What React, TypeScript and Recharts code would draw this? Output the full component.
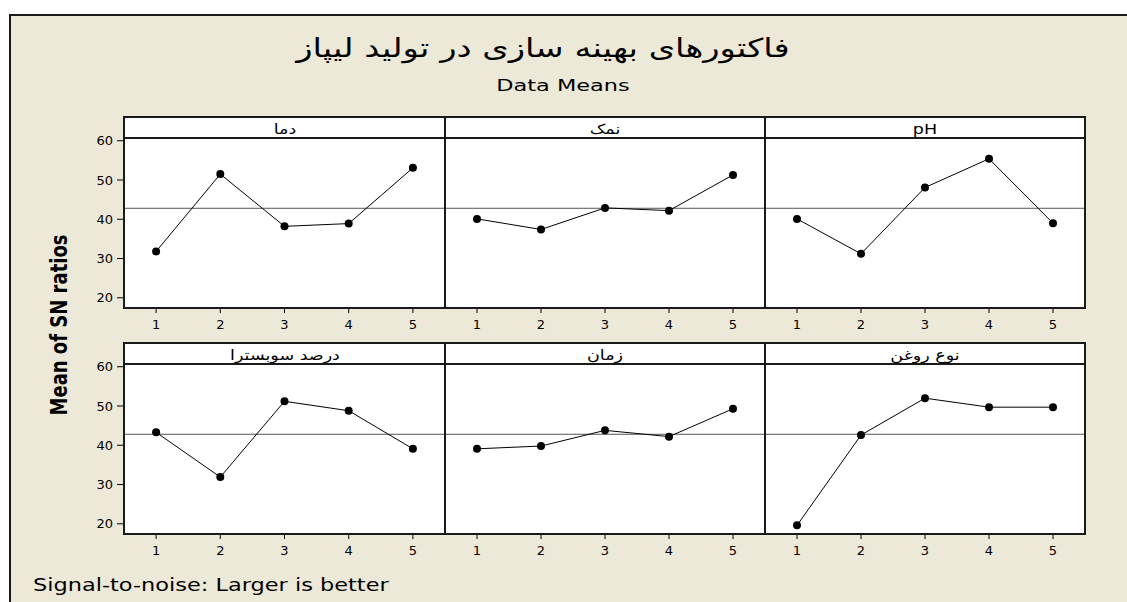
import type { CSSProperties, ReactNode } from "react";
import { Line, LineChart, ReferenceLine, XAxis, YAxis } from "recharts";

// Main effects of each factor level on the S/N ratio
const LEVELS = [1, 2, 3, 4, 5];
const FACTOR_NAMES = ["دما", "نمک", "pH", "درصد سوبسترا", "زمان", "نوع روغن"];
const temperatureSN = [31.8, 51.5, 38.2, 38.9, 53.1];
const saltSN = [40.1, 37.4, 42.9, 42.2, 51.3];
const phSN = [40.1, 31.2, 48.1, 55.4, 39.0];
const substrateSN = [43.3, 31.9, 51.2, 48.8, 39.1];
const timeSN = [39.1, 39.8, 43.8, 42.2, 49.3];
const oilTypeSN = [19.6, 42.6, 52.0, 49.7, 49.7];
const GRAND_MEAN = 42.8;
const Y_TICKS = [20, 30, 40, 50, 60];

const FACTOR_VALUES = [temperatureSN, saltSN, phSN, substrateSN, timeSN, oilTypeSN];

// grid geometry
const COL_X = [124, 445, 765];
const PANEL_W = [321, 320, 320];
const ROW_Y = [117, 343];
const STRIP_H = 21;
const PLOT_H = 170;
const AXIS_W = 60;
const AXIS_H = 30;
const PAD_TOP = 12; // room above the plot so the top tick label is not clipped
const Y_DOMAIN: [number, number] = [17.4, 60.7];
const X_DOMAIN: [number, number] = [0.5, 5.5];

const BG = "#ECE9D8";
const INK = "#1a1a1a";
const TICK_FONT = { fontSize: 13, fill: "#000", fontFamily: "DejaVu Sans" };

type TextProps = {
  x: number;
  y: number;
  size: number;
  stretch?: number;
  align?: "center" | "left";
  family?: string;
  weight?: number;
  rtl?: boolean;
  children: ReactNode;
};

function PlacedText({
  x,
  y,
  size,
  stretch = 1,
  align = "center",
  family = "DejaVu Sans",
  weight = 400,
  rtl,
  children,
}: TextProps) {
  const style: CSSProperties = {
    position: "absolute",
    left: x,
    top: y,
    fontSize: size,
    fontFamily: family,
    fontWeight: weight,
    lineHeight: 1,
    whiteSpace: "nowrap",
    color: "#000",
    transformOrigin: align === "center" ? "center" : "left center",
    transform:
      align === "center"
        ? `translate(-50%, -50%) scaleX(${stretch})`
        : `translateY(-50%) scaleX(${stretch})`,
  };
  return (
    <div style={style} dir={rtl ? "rtl" : undefined}>
      {children}
    </div>
  );
}

type PanelProps = {
  name: string;
  values: number[];
  col: number;
  row: number;
};

function FactorPanel({ name, values, col, row }: PanelProps) {
  const x = COL_X[col];
  const w = PANEL_W[col];
  const stripTop = ROW_Y[row];
  const plotTop = stripTop + STRIP_H;
  const withAxis = col === 0;
  const data = LEVELS.map((level, i) => ({ level, sn: values[i] }));

  return (
    <>
      <div
        style={{
          position: "absolute",
          left: x,
          top: plotTop,
          width: w,
          height: PLOT_H,
          background: "#fff",
        }}
      />
      <div
        style={{
          position: "absolute",
          left: withAxis ? x - AXIS_W : x,
          top: plotTop - PAD_TOP,
        }}
      >
        <LineChart
          width={w + (withAxis ? AXIS_W : 0)}
          height={PLOT_H + AXIS_H + PAD_TOP}
          data={data}
          margin={{ top: PAD_TOP, right: 0, bottom: 0, left: 0 }}
        >
          <XAxis
            dataKey="level"
            type="number"
            domain={X_DOMAIN}
            ticks={LEVELS}
            interval={0}
            allowDataOverflow
            axisLine={false}
            tickLine={{ stroke: "#000" }}
            tickSize={5}
            tickMargin={7}
            height={AXIS_H}
            tick={TICK_FONT}
          />
          <YAxis
            type="number"
            domain={Y_DOMAIN}
            ticks={Y_TICKS}
            interval={0}
            allowDataOverflow
            hide={!withAxis}
            width={AXIS_W}
            axisLine={false}
            tickLine={{ stroke: "#000" }}
            tickSize={7}
            tickMargin={4}
            tick={TICK_FONT}
          />
          <ReferenceLine y={GRAND_MEAN} stroke="#555" strokeWidth={1} />
          <Line
            dataKey="sn"
            stroke="#000"
            strokeWidth={1}
            dot={{ r: 4, fill: "#000", stroke: "#000", strokeWidth: 0 }}
            isAnimationActive={false}
          />
        </LineChart>
      </div>
      {/* strip with factor name */}
      <div
        style={{
          position: "absolute",
          left: x,
          top: stripTop,
          width: w,
          height: STRIP_H,
          background: "#fff",
        }}
      />
      <PlacedText
        x={x + w / 2}
        y={stripTop + STRIP_H / 2 + 1}
        size={14}
        stretch={1.25}
        rtl={!/[a-zA-Z]/.test(name)}
      >
        {name}
      </PlacedText>
      <div
        style={{
          position: "absolute",
          left: x,
          top: plotTop - 1,
          width: w,
          height: 2,
          background: INK,
        }}
      />
      <div
        style={{
          position: "absolute",
          left: x - 1,
          top: stripTop - 1,
          width: w + 2,
          height: STRIP_H + PLOT_H + 2,
          border: `2px solid ${INK}`,
          boxSizing: "border-box",
          pointerEvents: "none",
        }}
      />
    </>
  );
}

export default function App() {
  return (
    <div
      style={{
        position: "absolute",
        left: 0,
        top: 0,
        width: 1127,
        height: 602,
        background: "#fff",
        overflow: "hidden",
      }}
    >
      <div
        style={{
          position: "absolute",
          left: 9,
          top: 14,
          width: 1118,
          height: 588,
          background: BG,
          borderLeft: `2px solid ${INK}`,
          borderTop: `2px solid ${INK}`,
          boxSizing: "border-box",
        }}
      />
      <PlacedText x={543} y={48} size={26} stretch={1.3} rtl>
        فاکتورهای بهینه سازی در تولید لیپاز
      </PlacedText>
      <PlacedText x={563} y={86} size={16} stretch={1.4}>
        Data Means
      </PlacedText>

      {FACTOR_NAMES.map((name, i) => (
        <FactorPanel
          key={name}
          name={name}
          values={FACTOR_VALUES[i]}
          col={i % 3}
          row={Math.floor(i / 3)}
        />
      ))}

      <div
        style={{
          position: "absolute",
          left: 59,
          top: 325,
          fontFamily: "DejaVu Sans",
          fontSize: 18,
          fontWeight: 700,
          lineHeight: 1,
          whiteSpace: "nowrap",
          transform: "translate(-50%, -50%) rotate(-90deg) scaleY(1.25)",
        }}
      >
        Mean of SN ratios
      </div>

      <PlacedText x={33} y={585} size={17} stretch={1.32} align="left">
        Signal-to-noise: Larger is better
      </PlacedText>
    </div>
  );
}
